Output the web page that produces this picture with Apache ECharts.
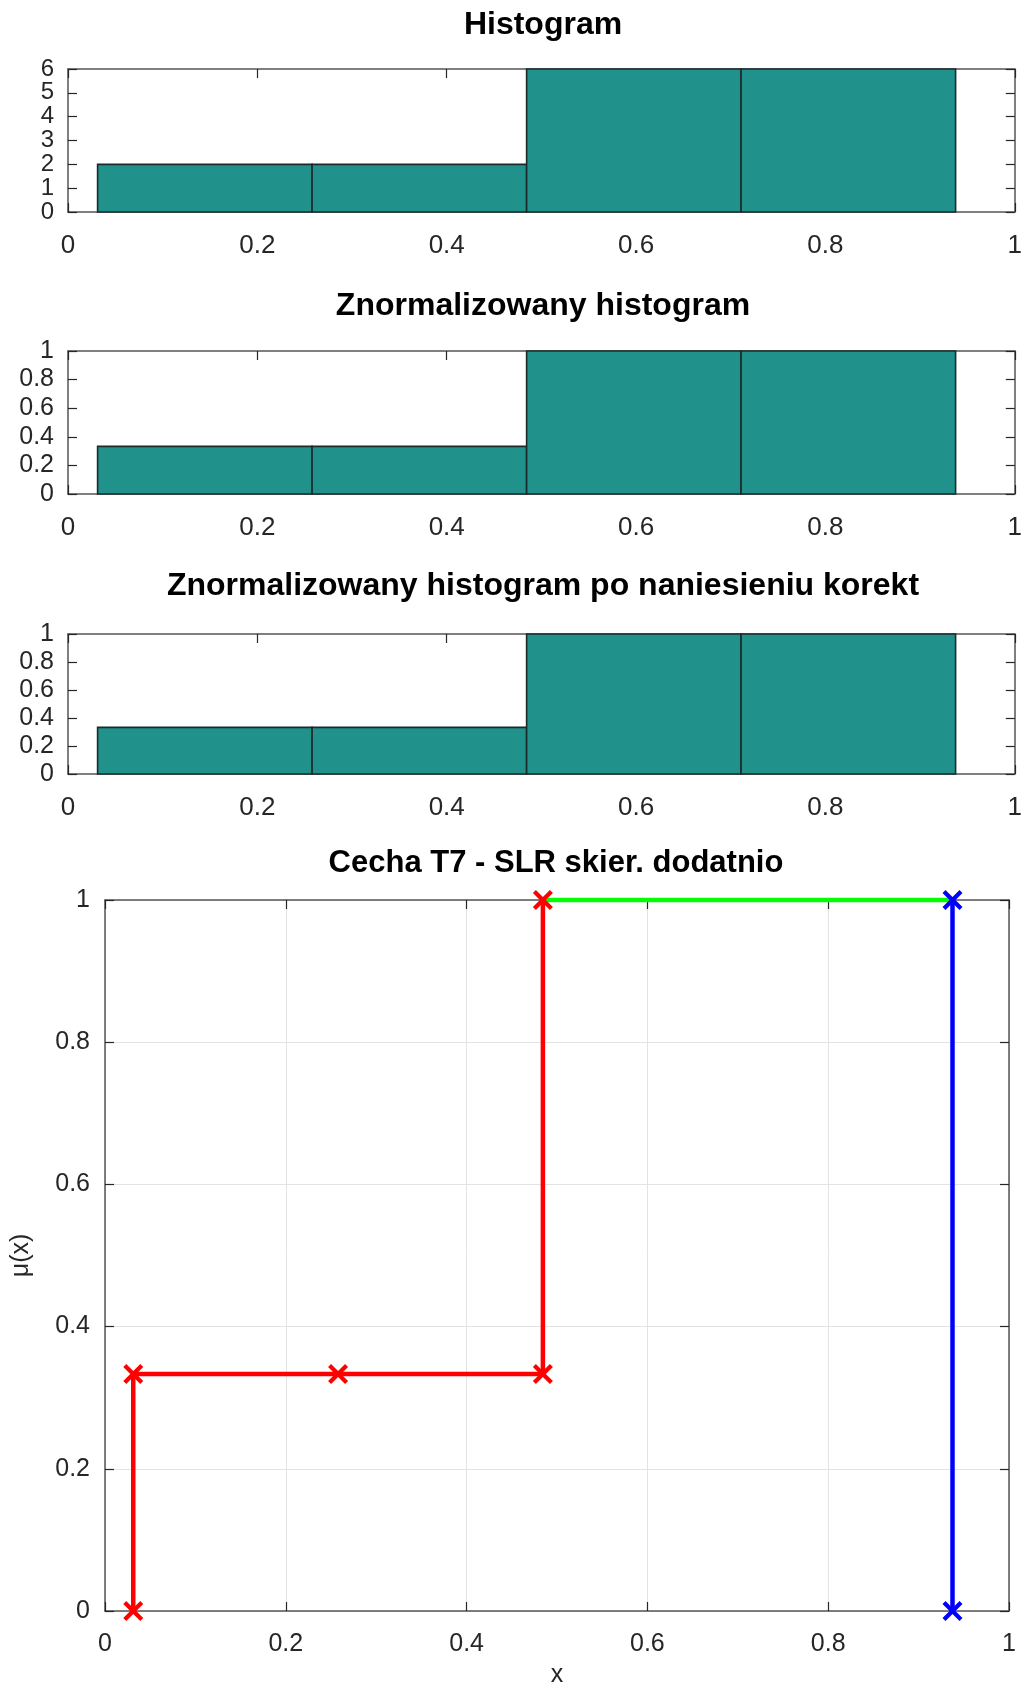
<!DOCTYPE html>
<html><head><meta charset="utf-8">
<script src="https://cdn.jsdelivr.net/npm/echarts@6/dist/echarts.min.js"></script>
<style>html,body{margin:0;padding:0;background:#fff}#c{width:1025px;height:1690px}</style>
</head><body><div id="c"></div>
<script>
// ---- data ----
const binEdges = [0.03125, 0.2578, 0.4844, 0.7109, 0.9375];
const counts = [2, 2, 6, 6];
const normCounts = [0.3333, 0.3333, 1, 1];
const corrCounts = [0.3333, 0.3333, 1, 1];
const titles = ['Histogram', 'Znormalizowany histogram', 'Znormalizowany histogram po naniesieniu korekt', 'Cecha T7 - SLR skier. dodatnio'];
const redX = [0.03125, 0.03125, 0.2578, 0.4844, 0.4844];
const redY = [0, 0.3333, 0.3333, 0.3333, 1];
const greenX = [0.4844, 0.9375];
const greenY = [1, 1];
const blueX = [0.9375, 0.9375];
const blueY = [1, 0];

const FONT = 'Liberation Sans, Arial, sans-serif';
const AX = '#262626';
const grids = [
  {left: 68, right: 6, top: 69, height: 143},
  {left: 68, right: 6, top: 351, height: 143},
  {left: 68, right: 6, top: 634, height: 140},
  {left: 105, right: 16, top: 900, height: 711}
];
const histData = [counts, normCounts, corrCounts];
const yMax = [6, 1, 1];
const yInt = [1, 0.2, 0.2];

function binsToData(vals) {
  return vals.map((v, i) => [binEdges[i], binEdges[i + 1], v]);
}
function baseAxis(extra) {
  return Object.assign({
    type: 'value',
    axisLine: {show: true, onZero: false, lineStyle: {color: '#555', width: 1.5}},
    axisTick: {show: true, inside: true, length: 9, lineStyle: {color: AX, width: 1.2}},
    splitLine: {show: false},
    axisLabel: {color: AX, fontFamily: FONT, fontSize: 24}
  }, extra);
}

const xAxes = [], yAxes = [], series = [];
for (let g = 0; g < 4; g++) {
  const isBottom = g === 3;
  const xa = baseAxis({gridIndex: g, min: 0, max: 1, interval: 0.2, position: 'bottom'});
  xa.axisLabel = {color: AX, fontFamily: FONT, fontSize: isBottom ? 25 : 26, margin: 21,
    showMinLabel: true, showMaxLabel: true, hideOverlap: false};
  if (isBottom) {
    xa.splitLine = {show: true, lineStyle: {color: '#e3e3e3', width: 1}};
    xa.name = 'x'; xa.nameLocation = 'middle'; xa.nameGap = 52;
    xa.nameTextStyle = {color: AX, fontFamily: FONT, fontSize: 25};
  }
  xAxes.push(xa);
  xAxes.push(baseAxis({gridIndex: g, min: 0, max: 1, interval: 0.2, position: 'top', axisLabel: {show: false}}));
  const ymax = isBottom ? 1 : yMax[g];
  const yint = isBottom ? 0.2 : yInt[g];
  const ya = baseAxis({gridIndex: g, min: 0, max: ymax, interval: yint, position: 'left'});
  ya.axisLabel = {color: AX, fontFamily: FONT, fontSize: g === 0 ? 24 : 25, lineHeight: g === 0 ? 20 : 28,
    margin: isBottom ? 15 : 14, showMinLabel: true, showMaxLabel: true, hideOverlap: false};
  if (isBottom) {
    ya.splitLine = {show: true, lineStyle: {color: '#e3e3e3', width: 1}};
    ya.name = 'μ(x)'; ya.nameLocation = 'middle'; ya.nameGap = 71;
    ya.nameTextStyle = {color: AX, fontFamily: FONT, fontSize: 25};
  }
  yAxes.push(ya);
  yAxes.push(baseAxis({gridIndex: g, min: 0, max: ymax, interval: yint, position: 'right', axisLabel: {show: false}}));
}

for (let g = 0; g < 3; g++) {
  series.push({
    type: 'custom', xAxisIndex: g * 2, yAxisIndex: g * 2,
    data: binsToData(histData[g]),
    renderItem: function (params, api) {
      const p0 = api.coord([api.value(0), 0]);
      const p1 = api.coord([api.value(1), api.value(2)]);
      return {type: 'rect', shape: {x: p0[0], y: p1[1], width: p1[0] - p0[0], height: p0[1] - p1[1]},
        style: {fill: '#21918c', stroke: '#1b2b2a', lineWidth: 1.6}};
    }
  });
}
const X_SYM = 'path://M0,3 L3,0 L10,7 L17,0 L20,3 L13,10 L20,17 L17,20 L10,13 L3,20 L0,17 L7,10 Z';
function zip(a, b) { return a.map((v, i) => [v, b[i]]); }
series.push({type: 'line', xAxisIndex: 6, yAxisIndex: 6, data: zip(greenX, greenY), showSymbol: false,
  lineStyle: {color: '#00ff00', width: 4.5}, clip: false, z: 3});
series.push({type: 'line', xAxisIndex: 6, yAxisIndex: 6, data: zip(redX, redY), symbol: X_SYM, symbolSize: 20,
  itemStyle: {color: '#ff0000'}, lineStyle: {color: '#ff0000', width: 4.5}, clip: false, z: 4});
series.push({type: 'line', xAxisIndex: 6, yAxisIndex: 6, data: zip(blueX, blueY), symbol: X_SYM, symbolSize: 20,
  itemStyle: {color: '#0000ff'}, lineStyle: {color: '#0000ff', width: 4.5}, clip: false, z: 5});

const titleY = [25, 306, 586, 863];
const titleX = [543, 543, 543, 556];
const titleSize = [32, 32, 32, 31];
const graphic = titles.map((t, i) => ({
  type: 'text', x: titleX[i], y: titleY[i],
  style: {text: t, fill: '#000', font: 'bold ' + titleSize[i] + 'px ' + FONT, textAlign: 'center', textVerticalAlign: 'middle'}
}));

const chart = echarts.init(document.getElementById('c'), null, {renderer: 'canvas'});
chart.setOption({
  animation: false,
  backgroundColor: '#fff',
  grid: grids,
  xAxis: xAxes,
  yAxis: yAxes,
  series: series,
  graphic: graphic
});
</script></body></html>
